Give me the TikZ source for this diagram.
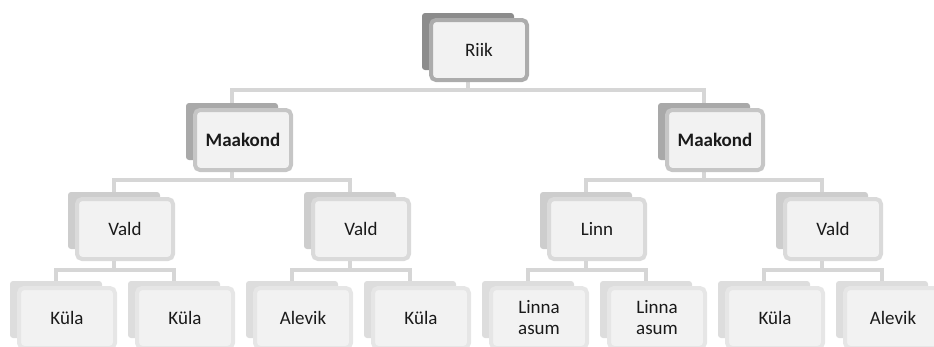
\documentclass[tikz,border=0pt]{standalone}
\usepackage{fontspec}
\setmainfont{Carlito}
\usetikzlibrary{backgrounds}

\definecolor{boxfill}{HTML}{F2F2F2}
\definecolor{txt}{HTML}{1A1A1A}
\definecolor{backA}{HTML}{8C8C8C}
\definecolor{edgeA}{HTML}{ACACAC}
\definecolor{backB}{HTML}{A9A9A9}
\definecolor{edgeB}{HTML}{C6C6C6}
\definecolor{backC}{HTML}{CDCDCD}
\definecolor{edgeC}{HTML}{DADADA}
\definecolor{backD}{HTML}{DDDDDD}
\definecolor{edgeD}{HTML}{E6E6E6}
\definecolor{linkgray}{HTML}{D6D6D6}

\tikzset{
  frontbox/.style={draw, line width=4pt, rounded corners=5pt, fill=boxfill,
    minimum width=96pt, minimum height=60pt, inner sep=0pt, align=center,
    text=txt, font=\fontsize{19}{21}\selectfont},
  backbox/.style={rounded corners=3pt, minimum width=92pt, minimum height=57pt,
    inner sep=0pt},
  link/.style={draw=linkgray, line width=4pt}
}

% #1 name, #2 centre x, #3 centre y, #4 level letter, #5 label
\newcommand\orgunit[5]{%
  \node[backbox, fill=back#4] (#1b) at (#2-11,#3-8.5) {};
  \node[frontbox, draw=edge#4] (#1) at (#2,#3) {#5};
}

\begin{document}
\begin{tikzpicture}[x=1pt,y=-1pt]
\useasboundingbox (0,0) rectangle (934,346);
\clip (0,0) rectangle (934,346);

% level 1
\orgunit{riik}{479}{50}{A}{Riik}
% level 2
\orgunit{ma}{243}{140}{B}{\textbf{Maakond}}
\orgunit{mb}{715}{140}{B}{\textbf{Maakond}}
% level 3
\orgunit{va}{125}{229}{C}{Vald}
\orgunit{vb}{361}{229}{C}{Vald}
\orgunit{vc}{597}{229}{C}{Linn}
\orgunit{vd}{833}{229}{C}{Vald}
% level 4
\orgunit{ka}{67}{318}{D}{Küla}
\orgunit{kb}{185}{318}{D}{Küla}
\orgunit{kc}{303}{318}{D}{Alevik}
\orgunit{kd}{421}{318}{D}{Küla}
\orgunit{ke}{539}{318}{D}{Linna\\asum}
\orgunit{kf}{657}{318}{D}{Linna\\asum}
\orgunit{kg}{775}{318}{D}{Küla}
\orgunit{kh}{893}{318}{D}{Alevik}

\begin{scope}[on background layer]
  \coordinate (j1) at (468,90);
  \draw[link] (riikb.center) -- (j1) -| (mab.center);
  \draw[link] (j1) -| (mbb.center);

  \coordinate (j2) at (232,180);
  \draw[link] (mab.center) -- (j2) -| (vab.center);
  \draw[link] (j2) -| (vbb.center);
  \coordinate (j3) at (704,180);
  \draw[link] (mbb.center) -- (j3) -| (vcb.center);
  \draw[link] (j3) -| (vdb.center);

  \coordinate (j4) at (114,270);
  \draw[link] (vab.center) -- (j4) -| (kab.center);
  \draw[link] (j4) -| (kbb.center);
  \coordinate (j5) at (350,270);
  \draw[link] (vbb.center) -- (j5) -| (kcb.center);
  \draw[link] (j5) -| (kdb.center);
  \coordinate (j6) at (586,270);
  \draw[link] (vcb.center) -- (j6) -| (keb.center);
  \draw[link] (j6) -| (kfb.center);
  \coordinate (j7) at (822,270);
  \draw[link] (vdb.center) -- (j7) -| (kgb.center);
  \draw[link] (j7) -| (khb.center);
\end{scope}
\end{tikzpicture}
\end{document}
